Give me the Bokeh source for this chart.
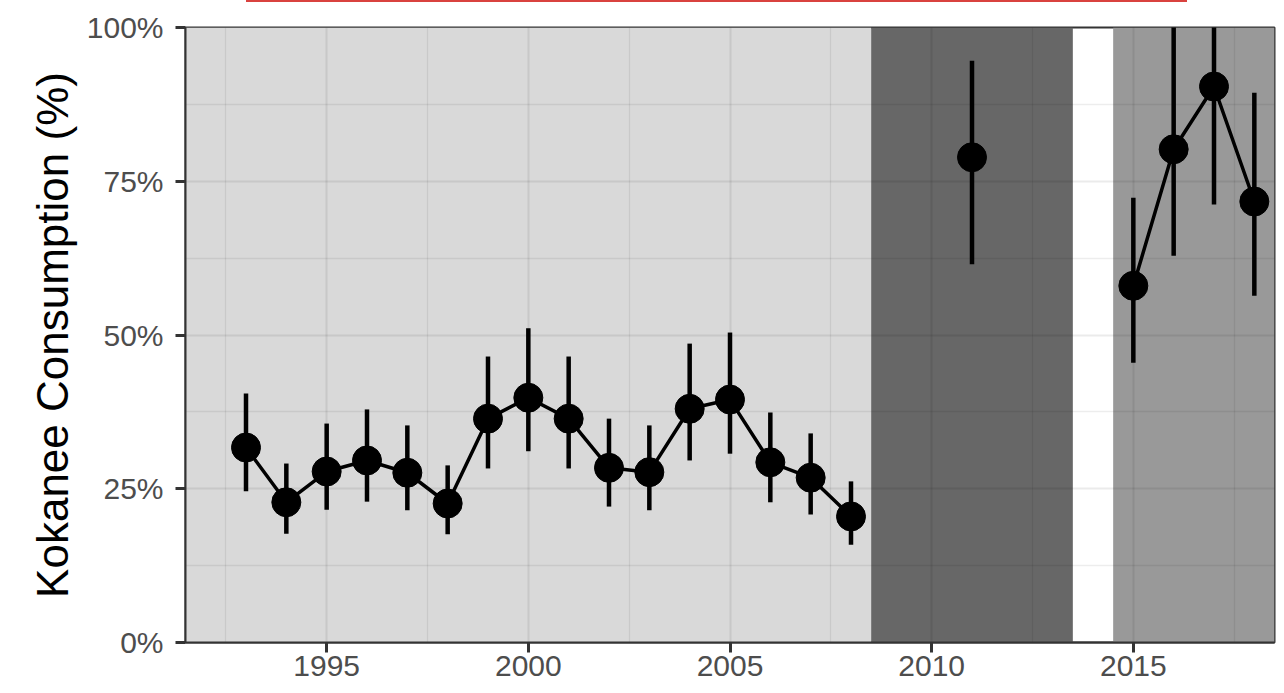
from bokeh.plotting import figure
from bokeh.models import Range1d, FixedTicker, NumeralTickFormatter, Div
from bokeh.layouts import column
from bokeh.embed import file_html
from bokeh.resources import INLINE

# ---- data ----
years = [1993, 1994, 1995, 1996, 1997, 1998, 1999, 2000, 2001, 2002, 2003,
         2004, 2005, 2006, 2007, 2008, 2011, 2015, 2016, 2017, 2018]
mean = [0.317, 0.228, 0.278, 0.296, 0.276, 0.226, 0.364, 0.398, 0.364, 0.284, 0.277,
        0.380, 0.395, 0.293, 0.268, 0.205, 0.789, 0.580, 0.802, 0.904, 0.717]
lower = [0.246, 0.177, 0.216, 0.229, 0.215, 0.176, 0.283, 0.311, 0.283, 0.221, 0.215,
         0.296, 0.307, 0.228, 0.208, 0.159, 0.615, 0.455, 0.629, 0.712, 0.564]
upper = [0.405, 0.291, 0.356, 0.379, 0.353, 0.288, 0.465, 0.511, 0.465, 0.364, 0.353,
         0.486, 0.504, 0.374, 0.340, 0.262, 0.946, 0.723, 1.05, 1.05, 0.894]
segment_id = [1] * 16 + [2] + [3] * 4

period_start = [1991.5, 2008.5, 2014.5]
period_end = [2008.5, 2013.5, 2018.5]
period_color = ["#d9d9d9", "#676767", "#999999"]

x_ticks = [1995, 2000, 2005, 2010, 2015]
x_minor = [1992.5, 1997.5, 2002.5, 2007.5, 2012.5, 2017.5]
y_ticks = [0, 0.25, 0.5, 0.75, 1.0]
y_minor = [0.125, 0.375, 0.625, 0.875]

FONT = "Liberation Sans"

p = figure(output_backend="svg", toolbar_location=None,
           x_range=Range1d(1991.5, 2018.5), y_range=Range1d(0, 1),
           min_border_left=185, min_border_right=10, min_border_top=25,
           min_border_bottom=49, frame_width=1089, frame_height=615)
p.background_fill_color = "white"
p.border_fill_color = "white"
p.outline_line_color = "#333333"
p.outline_line_width = 2

# shaded periods (under the grid)
p.quad(left=period_start, right=period_end, bottom=0, top=1,
       fill_color=period_color, line_color=None, level="image")

# error bars, lines, points
p.segment(x0=years, y0=lower, x1=years, y1=upper, line_color="black", line_width=4.5)
for g in sorted(set(segment_id)):
    xs = [y for y, s in zip(years, segment_id) if s == g]
    ys = [m for m, s in zip(mean, segment_id) if s == g]
    if len(xs) > 1:
        p.line(xs, ys, line_color="black", line_width=3.5)
p.scatter(years, mean, size=29, fill_color="black", line_color="black")

# axes
p.xaxis.ticker = FixedTicker(ticks=x_ticks, minor_ticks=x_minor)
p.yaxis.ticker = FixedTicker(ticks=y_ticks, minor_ticks=y_minor)
p.yaxis.formatter = NumeralTickFormatter(format="0%")

for ax in (p.xaxis, p.yaxis):
    ax.axis_line_color = "#333333"
    ax.axis_line_width = 2
    ax.major_tick_line_color = "#333333"
    ax.major_tick_line_width = 3
    ax.major_tick_in = 0
    ax.major_tick_out = 10
    ax.minor_tick_line_color = None
    ax.major_label_text_font = FONT
    ax.major_label_text_color = "#4d4d4d"

p.xaxis.major_label_text_font_size = "30px"
p.xaxis.major_label_standoff = 3
p.yaxis.major_label_text_font_size = "30px"
p.yaxis.major_label_standoff = 12

p.yaxis.axis_label = "Kokanee Consumption (%)"
p.yaxis.axis_label_text_font = FONT
p.yaxis.axis_label_text_font_size = "44px"
p.yaxis.axis_label_text_font_style = "normal"
p.yaxis.axis_label_text_color = "black"
p.yaxis.axis_label_standoff = 7

# grid (drawn over the shaded periods)
for gr in (p.xgrid, p.ygrid):
    gr.grid_line_color = "black"
    gr.grid_line_alpha = 0.08
    gr.grid_line_width = 2
    gr.minor_grid_line_color = "black"
    gr.minor_grid_line_alpha = 0.07
    gr.minor_grid_line_width = 1.3

red_line = Div(text="", width=941, height=2, margin=(0, 0, 0, 246),
               styles={"background-color": "#d9423f"})

layout = column(red_line, p, spacing=0)
open("out.html", "w").write(file_html(layout, INLINE))
